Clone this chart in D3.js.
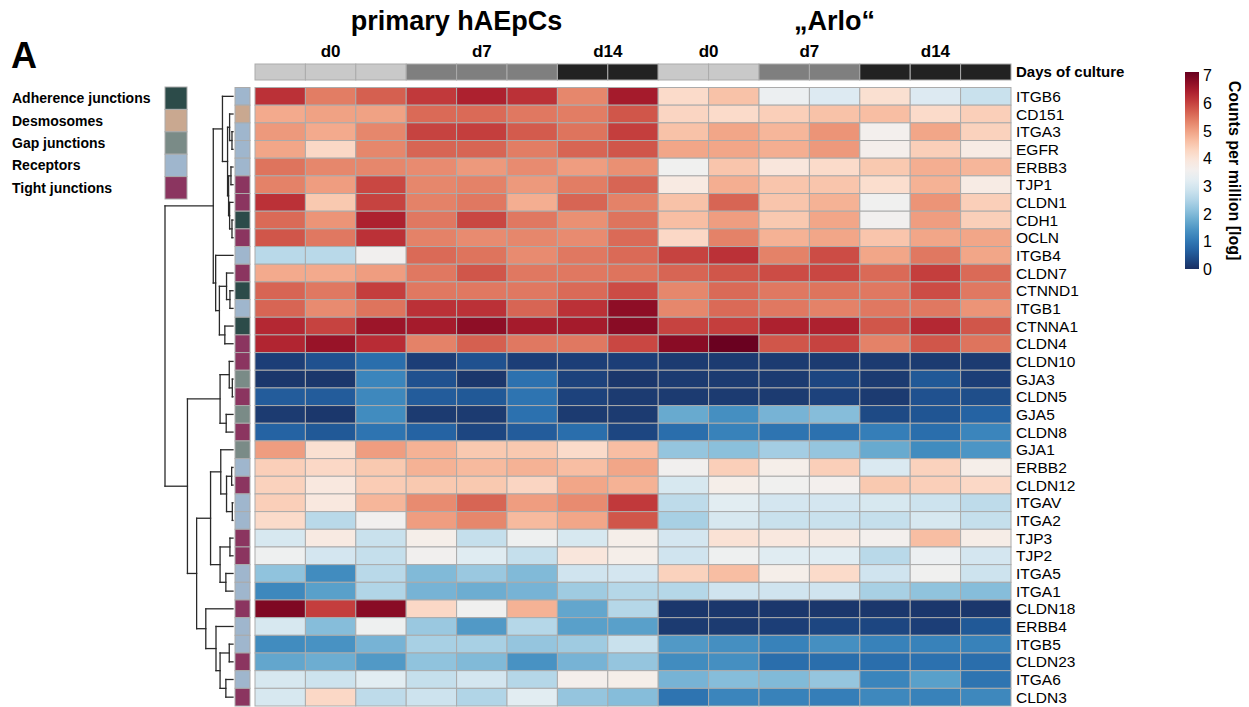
<!DOCTYPE html>
<html>
<head>
<meta charset="utf-8">
<script src="https://cdn.jsdelivr.net/npm/d3@7"></script>
<style>
  body { margin: 0; background: #fff; }
  svg { font-family: "Liberation Sans", Arial, sans-serif; }
</style>
</head>
<body>
<div id="chart"></div>
<script>
// ---- data ----
const genes = ['ITGB6', 'CD151', 'ITGA3', 'EGFR', 'ERBB3', 'TJP1', 'CLDN1', 'CDH1', 'OCLN', 'ITGB4',
  'CLDN7', 'CTNND1', 'ITGB1', 'CTNNA1', 'CLDN4', 'CLDN10', 'GJA3', 'CLDN5', 'GJA5', 'CLDN8',
  'GJA1', 'ERBB2', 'CLDN12', 'ITGAV', 'ITGA2', 'TJP3', 'TJP2', 'ITGA5', 'ITGA1', 'CLDN18',
  'ERBB4', 'ITGB5', 'CLDN23', 'ITGA6', 'CLDN3'];

const geneGroup = ['Receptors', 'Desmosomes', 'Receptors', 'Receptors', 'Receptors', 'Tight junctions',
  'Tight junctions', 'Adherence junctions', 'Tight junctions', 'Receptors', 'Tight junctions',
  'Adherence junctions', 'Receptors', 'Adherence junctions', 'Tight junctions', 'Tight junctions',
  'Gap junctions', 'Tight junctions', 'Gap junctions', 'Tight junctions', 'Gap junctions', 'Receptors',
  'Tight junctions', 'Receptors', 'Receptors', 'Tight junctions', 'Tight junctions', 'Receptors',
  'Receptors', 'Tight junctions', 'Receptors', 'Receptors', 'Tight junctions', 'Receptors', 'Tight junctions'];

const categories = ['Adherence junctions', 'Desmosomes', 'Gap junctions', 'Receptors', 'Tight junctions'];
const categoryColors = ['#2c4b49', '#c9a890', '#7a8b87', '#9fb6cd', '#8b3560'];

const cellLines = ['primary hAEpCs', '\u201EArlo\u201C'];
const sampleLine = [0, 0, 0, 0, 0, 0, 0, 0, 1, 1, 1, 1, 1, 1, 1];
const sampleDay = ['d0', 'd0', 'd0', 'd7', 'd7', 'd7', 'd14', 'd14', 'd0', 'd0', 'd7', 'd7', 'd14', 'd14', 'd14'];
const days = ['d0', 'd7', 'd14'];
const dayColors = ['#c9c9c9', '#7f7f7f', '#222222'];

// log counts per million, one row per gene, 8 primary + 7 Arlo samples
const values = [
  [6.2, 5.4, 5.7, 6.1, 6.4, 6.2, 5.3, 6.5, 4.2, 4.6, 3.4, 3.1, 4.1, 3.1, 2.8],
  [4.9, 5.0, 5.0, 5.6, 5.6, 5.45, 5.4, 5.8, 4.3, 4.2, 4.4, 4.6, 4.65, 4.2, 4.4],
  [5.1, 4.9, 5.3, 6.0, 6.05, 5.75, 5.5, 6.05, 4.6, 4.95, 4.75, 5.15, 3.6, 4.95, 4.35],
  [4.95, 4.25, 5.3, 5.65, 5.65, 5.4, 5.65, 5.8, 4.95, 4.95, 4.85, 5.1, 3.65, 4.4, 3.8],
  [5.5, 5.3, 5.3, 5.25, 5.1, 5.25, 5.05, 5.2, 3.5, 4.55, 3.95, 4.2, 4.5, 4.85, 4.75],
  [5.35, 5.05, 5.95, 5.3, 5.35, 5.1, 5.4, 5.65, 3.85, 4.85, 4.55, 4.55, 4.15, 4.8, 3.8],
  [6.2, 4.5, 6.0, 5.35, 5.45, 4.85, 5.65, 5.35, 4.6, 5.65, 4.55, 4.8, 3.5, 5.15, 4.4],
  [5.6, 5.15, 6.4, 5.45, 5.95, 5.45, 5.2, 5.5, 4.65, 5.05, 4.5, 4.95, 3.55, 5.05, 4.4],
  [5.8, 5.45, 6.2, 5.35, 5.25, 5.3, 5.25, 5.6, 4.25, 5.35, 4.8, 4.95, 4.55, 4.95, 4.95],
  [2.6, 2.6, 3.55, 5.6, 5.5, 5.25, 5.45, 5.6, 6.0, 6.2, 5.35, 5.9, 4.95, 5.45, 4.95],
  [4.9, 4.9, 5.05, 5.45, 5.8, 5.45, 5.45, 5.5, 5.65, 5.8, 5.9, 5.95, 5.6, 6.05, 5.6],
  [5.65, 5.45, 6.05, 5.45, 5.45, 5.45, 5.6, 5.9, 5.3, 5.6, 5.45, 5.5, 5.45, 5.9, 5.45],
  [5.65, 5.25, 5.5, 6.2, 6.2, 5.65, 6.2, 6.75, 5.3, 5.6, 5.45, 5.35, 5.45, 5.45, 5.15],
  [6.3, 6.0, 6.6, 6.5, 6.75, 6.5, 6.5, 6.8, 6.0, 6.05, 6.4, 6.4, 5.8, 6.3, 5.8],
  [6.35, 6.65, 6.25, 5.35, 5.7, 5.45, 5.45, 5.95, 6.8, 7.1, 5.8, 6.0, 5.35, 5.8, 5.5],
  [0.2, 0.45, 0.85, 0.2, 0.45, 0.2, 0.2, 0.2, 0.15, 0.15, 0.15, 0.15, 0.15, 0.15, 0.15],
  [0.1, 0.1, 1.2, 0.45, 0.1, 0.9, 0.25, 0.1, 0.15, 0.15, 0.15, 0.3, 0.15, 0.55, 0.2],
  [0.6, 0.6, 1.25, 0.6, 0.55, 0.95, 0.25, 0.15, 0.15, 0.15, 0.15, 0.25, 0.15, 0.45, 0.4],
  [0.15, 0.1, 1.3, 0.15, 0.15, 0.9, 0.15, 0.15, 1.75, 1.35, 1.9, 2.05, 0.35, 0.5, 0.7],
  [0.7, 0.55, 0.95, 0.7, 0.3, 0.6, 0.85, 0.3, 0.85, 1.15, 0.95, 0.9, 1.1, 0.85, 1.2],
  [5.05, 4.1, 5.05, 4.8, 4.5, 4.5, 4.2, 4.65, 2.2, 2.1, 2.35, 2.2, 1.75, 1.3, 1.45],
  [4.4, 4.25, 4.5, 4.8, 4.7, 4.8, 4.65, 4.95, 3.55, 4.4, 3.7, 4.4, 3.05, 4.35, 3.7],
  [4.35, 3.9, 4.45, 4.5, 4.5, 4.3, 4.95, 4.8, 3.0, 3.7, 3.5, 3.6, 4.5, 4.4, 4.25],
  [4.4, 3.9, 4.75, 5.25, 5.65, 5.05, 5.25, 6.1, 2.65, 3.2, 2.95, 2.95, 3.0, 2.85, 2.65],
  [4.2, 2.6, 3.55, 5.05, 5.3, 4.7, 4.95, 5.8, 2.4, 3.0, 2.8, 2.8, 2.75, 3.0, 2.75],
  [3.0, 3.85, 2.8, 3.7, 2.75, 3.45, 3.0, 3.7, 2.95, 4.05, 3.9, 3.85, 3.6, 4.65, 3.75],
  [3.45, 2.95, 2.75, 3.55, 3.15, 2.75, 3.95, 3.7, 2.9, 3.45, 3.15, 3.15, 2.6, 3.4, 2.95],
  [2.15, 1.3, 2.6, 2.0, 2.25, 2.0, 2.9, 2.95, 4.35, 4.65, 3.7, 4.2, 2.9, 3.5, 2.85],
  [1.25, 1.6, 2.5, 1.9, 1.8, 1.9, 2.3, 2.55, 2.55, 2.9, 2.9, 2.9, 2.4, 2.15, 2.05],
  [6.9, 6.05, 6.8, 4.25, 3.5, 4.8, 1.7, 2.55, 0.1, 0.1, 0.1, 0.1, 0.1, 0.1, 0.1],
  [3.0, 2.05, 3.45, 2.25, 1.5, 2.55, 1.6, 1.6, 0.15, 0.15, 0.2, 0.3, 0.3, 0.2, 0.55],
  [1.3, 1.4, 1.9, 2.4, 2.4, 2.2, 2.3, 2.8, 1.5, 1.35, 1.15, 1.35, 1.15, 1.15, 1.15],
  [1.7, 1.8, 1.5, 2.15, 2.0, 1.4, 1.9, 2.2, 1.3, 1.35, 0.85, 0.85, 0.85, 0.9, 0.85],
  [3.0, 2.85, 3.2, 2.75, 2.95, 2.55, 3.65, 3.7, 1.9, 2.05, 2.0, 2.2, 1.2, 1.6, 0.95],
  [3.0, 4.25, 2.65, 2.85, 2.5, 3.2, 2.2, 2.05, 0.95, 1.2, 1.15, 1.1, 1.25, 1.15, 1.25]
];

// row clustering: [mergeHeight, left, right], leaves are gene names
const rowTree = [10,
  [2.9,
    [1.55, 'ITGB6',
      [0.8,
        [0.5, 'CD151', [0.15, 'ITGA3', 'EGFR']],
        [0.65, [0.3, 'ERBB3', 'TJP1'], [0.5, 'CLDN1', [0.15, 'CDH1', 'OCLN']]]]],
    [2.55, 'ITGB4',
      [2.0,
        [0.95, 'CLDN7', [0.45, 'CTNND1', 'ITGB1']],
        [1.2, 'CTNNA1', 'CLDN4']]]],
  [6.7,
    [1.9,
      [0.55, 'CLDN10', [0.1, 'GJA3', 'CLDN5']],
      [1.0, 'GJA5', 'CLDN8']],
    [5.35,
      [3.3,
        [1.8, 'GJA1', [0.95, [0.2, 'ERBB2', 'CLDN12'], [0.1, 'ITGAV', 'ITGA2']]],
        [1.9, [0.45, 'TJP3', 'TJP2'], [1.05, 'ITGA5', 'ITGA1']]],
      [4.0, 'CLDN18',
        [2.5, 'ERBB4',
          [1.9, [0.55, 'ITGB5', 'CLDN23'], [1.05, 'ITGA6', 'CLDN3']]]]]]];

const colorTicks = [0, 1, 2, 3, 4, 5, 6, 7];
const colorMax = 7.13;

// ---- layout ----
const width = 1249, height = 707;
const grid = { left: 255, right: 1011, top: 87.5, bottom: 706 };
const colAnno = { top: 64, bottom: 80 };
const rowAnno = { left: 235, right: 250 };
const dendro = { leaf: 233, root: 165 };
const cellStroke = '#ababab';

const svg = d3.select('#chart').append('svg')
  .attr('width', width).attr('height', height)
  .attr('viewBox', `0 0 ${width} ${height}`);

const samples = d3.range(sampleDay.length);
const x = d3.scaleBand(samples, [grid.left, grid.right]);
const y = d3.scaleBand(genes, [grid.top, grid.bottom]);
// RdBu with a slightly softer navy end, as in the figure
const palette = d3.schemeRdBu[11].slice().reverse();
palette[0] = '#1a2f62';
const color = d3.scaleSequential(d3.interpolateRgbBasis(palette)).domain([0, colorMax]);
const dayColor = d3.scaleOrdinal(days, dayColors);
const catColor = d3.scaleOrdinal(categories, categoryColors);

// heatmap cells
const cells = values.flatMap((row, i) => row.map((v, j) => ({ gene: genes[i], s: j, v })));
svg.append('g').selectAll('rect')
  .data(cells)
  .join('rect')
  .attr('x', d => x(d.s))
  .attr('y', d => y(d.gene))
  .attr('width', x.bandwidth())
  .attr('height', y.bandwidth())
  .attr('fill', d => color(d.v))
  .attr('stroke', cellStroke)
  .attr('stroke-width', 1);

// column annotation (days of culture)
svg.append('g').selectAll('rect')
  .data(samples)
  .join('rect')
  .attr('x', d => x(d))
  .attr('y', colAnno.top)
  .attr('width', x.bandwidth())
  .attr('height', colAnno.bottom - colAnno.top)
  .attr('fill', d => dayColor(sampleDay[d]))
  .attr('stroke', cellStroke);

svg.append('text')
  .attr('x', grid.right + 5)
  .attr('y', (colAnno.top + colAnno.bottom) / 2)
  .attr('dy', '0.35em')
  .style('font-weight', 'bold').style('font-size', '15px')
  .text('Days of culture');

// group headers: runs of same cell line + day
const runs = [];
samples.forEach(s => {
  const last = runs[runs.length - 1];
  if (last && last.line === sampleLine[s] && last.day === sampleDay[s]) last.end = s;
  else runs.push({ line: sampleLine[s], day: sampleDay[s], start: s, end: s });
});
svg.append('g').selectAll('text')
  .data(runs)
  .join('text')
  .attr('x', d => (x(d.start) + x(d.end) + x.bandwidth()) / 2)
  .attr('y', 57)
  .attr('text-anchor', 'middle')
  .style('font-weight', 'bold').style('font-size', '17px')
  .text(d => d.day);

svg.append('g').selectAll('text')
  .data(cellLines)
  .join('text')
  .attr('x', (d, i) => {
    const idx = samples.filter(s => sampleLine[s] === i);
    return (x(idx[0]) + x(idx[idx.length - 1]) + x.bandwidth()) / 2;
  })
  .attr('y', 30)
  .attr('text-anchor', 'middle')
  .style('font-weight', 'bold').style('font-size', '27px')
  .text(d => d);

// row annotation
svg.append('g').selectAll('rect')
  .data(genes)
  .join('rect')
  .attr('x', rowAnno.left)
  .attr('y', d => y(d))
  .attr('width', rowAnno.right - rowAnno.left)
  .attr('height', y.bandwidth())
  .attr('fill', (d, i) => catColor(geneGroup[i]))
  .attr('stroke', cellStroke);

// row labels
svg.append('g').selectAll('text')
  .data(genes)
  .join('text')
  .attr('x', grid.right + 5)
  .attr('y', d => y(d) + y.bandwidth() / 2)
  .attr('dy', '0.36em')
  .style('font-size', '15.5px')
  .text(d => d);

// dendrogram
const root = d3.hierarchy(rowTree, d => Array.isArray(d) ? d.slice(1) : null);
root.eachAfter(n => {
  n.h = n.children ? n.data[0] : 0;
  n.yPos = n.children ? d3.mean(n.children, c => c.yPos) : y(n.data) + y.bandwidth() / 2;
});
const hx = d3.scaleLinear([0, root.h], [dendro.leaf, dendro.root]);
const segs = [];
root.each(n => {
  if (!n.children) return;
  const [a, b] = n.children;
  segs.push([hx(n.h), a.yPos, hx(n.h), b.yPos]);
  n.children.forEach(c => segs.push([hx(n.h), c.yPos, hx(c.h), c.yPos]));
});
svg.append('g').selectAll('line')
  .data(segs)
  .join('line')
  .attr('x1', d => d[0]).attr('y1', d => d[1])
  .attr('x2', d => d[2]).attr('y2', d => d[3])
  .attr('stroke', '#2a2a2a')
  .attr('stroke-width', 1.3)
  .attr('stroke-linecap', 'square');

// category legend
const legY = d3.scaleBand(categories, [87, 199]);
const leg = svg.append('g');
leg.selectAll('rect')
  .data(categories)
  .join('rect')
  .attr('x', 165).attr('y', d => legY(d))
  .attr('width', 22).attr('height', legY.bandwidth())
  .attr('fill', d => catColor(d))
  .attr('stroke', cellStroke);
leg.selectAll('text')
  .data(categories)
  .join('text')
  .attr('x', 12)
  .attr('y', d => legY(d) + legY.bandwidth() / 2)
  .attr('dy', '0.35em')
  .style('font-weight', 'bold').style('font-size', '14px')
  .text(d => d);

// panel letter
svg.append('text')
  .attr('x', 11).attr('y', 68)
  .style('font-weight', 'bold').style('font-size', '36px')
  .text('A');

// colour bar
const cbY = d3.scaleLinear([0, colorMax], [269, 72]);
const grad = svg.append('defs').append('linearGradient')
  .attr('id', 'cbar').attr('x1', 0).attr('y1', 1).attr('x2', 0).attr('y2', 0);
grad.selectAll('stop')
  .data(d3.range(0, 1.0001, 0.05))
  .join('stop')
  .attr('offset', d => d)
  .attr('stop-color', d => color(d * colorMax));
svg.append('rect')
  .attr('x', 1185).attr('y', cbY(colorMax))
  .attr('width', 14).attr('height', cbY(0) - cbY(colorMax))
  .attr('fill', 'url(#cbar)');
svg.append('g').selectAll('text')
  .data(colorTicks)
  .join('text')
  .attr('x', 1203)
  .attr('y', d => cbY(d))
  .attr('dy', '0.36em')
  .style('font-size', '16px')
  .text(d => d);
svg.append('text')
  .attr('transform', `translate(1229,${cbY(colorMax / 2)}) rotate(90)`)
  .attr('text-anchor', 'middle')
  .style('font-weight', 'bold').style('font-size', '16px')
  .text('Counts per million [log]');
</script>
</body>
</html>
